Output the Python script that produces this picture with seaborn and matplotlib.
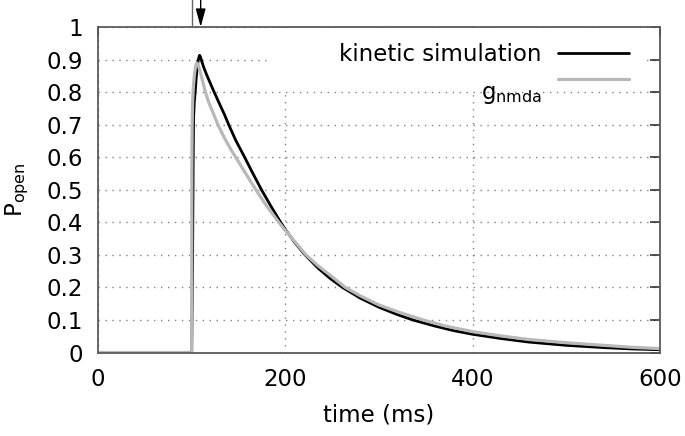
import matplotlib
matplotlib.use("Agg")
import matplotlib.pyplot as plt
import seaborn as sns
import pandas as pd
from matplotlib.patches import Rectangle
from matplotlib.lines import Line2D

# ---- data ----
kin_t = [0, 100, 101.0, 101.5, 102.0, 102.8, 104, 105, 106, 107, 108, 108.5, 109.5, 111,
         113, 116, 119, 124, 130, 135, 139.5, 147, 156.5, 165, 174.5, 184.5, 195, 200,
         210, 221, 235, 248, 261, 280, 300, 320, 336, 360, 380, 400, 430, 460, 500,
         540, 570, 600]
kin_p = [0, 0, 0.30, 0.55, 0.72, 0.77, 0.81, 0.85, 0.878, 0.898, 0.910, 0.913, 0.907, 0.892,
         0.875, 0.853, 0.833, 0.800, 0.762, 0.731, 0.700, 0.652, 0.600, 0.552, 0.500, 0.450,
         0.400, 0.378, 0.338, 0.300, 0.259, 0.227, 0.200, 0.167, 0.139, 0.116, 0.100, 0.081,
         0.067, 0.056, 0.043, 0.032, 0.022, 0.015, 0.011, 0.0085]

nmda_t = [0, 100, 100.15, 100.5, 101, 101.8, 103, 104, 105, 105.7, 106.5, 108, 110, 112,
          114.6, 118, 122, 128, 135, 141, 147, 157, 168.5, 180, 193, 200, 210, 222, 235,
          248, 264, 280, 300, 320, 347, 370, 400, 430, 460, 500, 540, 570, 600]
nmda_p = [0, 0, 0.55, 0.70, 0.77, 0.815, 0.855, 0.876, 0.887, 0.889, 0.887, 0.874, 0.853, 0.830,
          0.800, 0.770, 0.742, 0.700, 0.659, 0.628, 0.600, 0.553, 0.500, 0.450, 0.400, 0.375,
          0.341, 0.300, 0.266, 0.237, 0.200, 0.174, 0.146, 0.125, 0.100, 0.082, 0.064, 0.051,
          0.040, 0.030, 0.022, 0.016, 0.012]

series_names = ["kinetic simulation", "g$_{\\mathrm{nmda}}$"]
x_ticks = [0, 200, 400, 600]
y_ticks = [0, 0.1, 0.2, 0.3, 0.4, 0.5, 0.6, 0.7, 0.8, 0.9, 1]
y_tick_labels = ["0", "0.1", "0.2", "0.3", "0.4", "0.5", "0.6", "0.7", "0.8", "0.9", "1"]
stim_time = 100
peak_marker_time = 109.6

df = pd.concat([
    pd.DataFrame({"t": kin_t, "P": kin_p, "series": series_names[0]}),
    pd.DataFrame({"t": nmda_t, "P": nmda_p, "series": series_names[1]}),
], ignore_index=True)

sns.set_style("white")
plt.rcParams["font.family"] = ["DejaVu Sans"]
plt.rcParams["mathtext.fontset"] = "dejavusans"
plt.rcParams["text.color"] = "black"
plt.rcParams["axes.labelcolor"] = "black"
plt.rcParams["xtick.color"] = "black"
plt.rcParams["ytick.color"] = "black"
FS = 16.5

fig = plt.figure(figsize=(6.85, 4.36), dpi=100)
ax = fig.add_axes([0.1431, 0.1915, 0.8204, 0.7466])

colors = {series_names[0]: "#000000", series_names[1]: "#b8b8b8"}
widths = {series_names[0]: 2.0, series_names[1]: 2.3}
for name in series_names:
    sub = df[df["series"] == name]
    sns.lineplot(data=sub, x="t", y="P", ax=ax, color=colors[name],
                 linewidth=widths[name], estimator=None, sort=False, legend=False,
                 zorder=2)

ax.set_xlim(0, 600)
ax.set_ylim(0, 1)
ax.set_xticks(x_ticks)
ax.set_xticklabels([str(v) for v in x_ticks])
ax.set_yticks(y_ticks)
ax.set_yticklabels(y_tick_labels)

# grid
ax.set_axisbelow(True)
ax.grid(True, linestyle=(0, (1, 4)), linewidth=1.0, color="#808080")

# white key area hiding the grid behind the key
ax.add_patch(Rectangle((0.306, 0.806), 0.667, 0.19, transform=ax.transAxes,
                       facecolor="white", edgecolor="none", zorder=1))

for sp in ax.spines.values():
    sp.set_color("#5a5a5a")
    sp.set_linewidth(1.3)
    sp.set_zorder(2.5)
ax.tick_params(axis="both", which="major", direction="in", length=7.5, width=1.1,
               color="#222222", labelcolor="black", top=True, right=True,
               labelsize=FS, pad=11)

ax.set_xlabel("time (ms)", fontsize=FS, labelpad=9, color="black")
ax.set_ylabel("P$_{\\mathrm{open}}$", fontsize=FS, labelpad=11, color="black")

# markers above the plot
ax.plot([stim_time, stim_time], [1.0, 1.085], color="#666666", linewidth=1.0,
        clip_on=False, zorder=4)
ax.annotate("", xy=(peak_marker_time, 1.0), xytext=(peak_marker_time, 1.085),
            xycoords="data", textcoords="data",
            arrowprops=dict(arrowstyle="-|>,head_length=1.1,head_width=0.3",
                            mutation_scale=10, color="black", linewidth=1.0,
                            shrinkA=0, shrinkB=0),
            annotation_clip=False)

handles = [Line2D([], [], color=colors[n], linewidth=widths[n]) for n in series_names]
leg = ax.legend(handles, series_names, loc="upper right", bbox_to_anchor=(0.9448, 0.95),
                frameon=False, markerfirst=False, fontsize=FS, handlelength=3.1,
                handletextpad=0.7, labelspacing=0.12, borderpad=0, borderaxespad=0)
for txt in leg.get_texts():
    txt.set_color("black")
# gnuplot places the subscripted key text a little lower than its sample line
leg.get_texts()[1].set_y(-12)
leg.set_zorder(6)

fig.savefig("out.png", dpi=100)
